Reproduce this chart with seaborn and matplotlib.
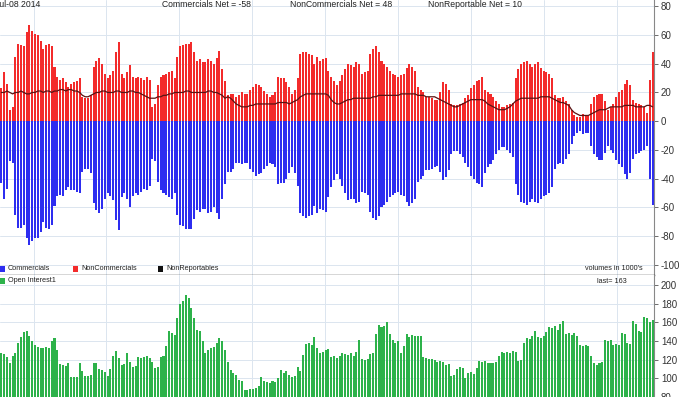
import numpy as np
import pandas as pd
import matplotlib
matplotlib.use("Agg")
import matplotlib.pyplot as plt
from matplotlib.patches import Rectangle
import seaborn as sns

# ---------------- data (weekly, 234 reports, values in 1000's) ----------------
date_label = "Jul-08 2014"
noncommercials = [
    23, 34, 26, 8, 10, 45, 54, 53, 52, 62,
    67, 63, 61, 60, 56, 50, 53, 54, 52, 38,
    31, 29, 30, 27, 24, 26, 27, 28, 30, 17,
    16, 16, 18, 38, 42, 44, 40, 33, 30, 32,
    35, 48, 55, 33, 30, 34, 39, 31, 30, 31,
    30, 29, 31, 29, 10, 12, 25, 31, 32, 33,
    34, 35, 30, 45, 52, 53, 54, 54, 55, 48,
    42, 43, 41, 41, 43, 42, 40, 44, 49, 36,
    28, 18, 19, 19, 17, 18, 20, 19, 19, 22,
    24, 26, 25, 24, 21, 19, 17, 18, 20, 31,
    30, 30, 27, 24, 19, 22, 30, 47, 48, 48,
    47, 46, 40, 45, 42, 43, 44, 35, 31, 28,
    25, 28, 32, 36, 40, 39, 38, 41, 40, 33,
    34, 35, 47, 50, 52, 48, 42, 40, 38, 35,
    33, 32, 31, 32, 33, 37, 40, 38, 35, 24,
    22, 20, 17, 17, 16, 15, 15, 20, 27, 26,
    22, 12, 11, 11, 12, 13, 16, 18, 23, 25,
    28, 29, 31, 22, 20, 19, 17, 14, 12, 10,
    10, 11, 12, 13, 30, 36, 40, 41, 42, 40,
    38, 40, 41, 37, 35, 34, 33, 30, 18, 16,
    16, 17, 14, 12, 8, 4, 3, 3, 5, 4,
    4, 12, 17, 18, 19, 19, 14, 8, 10, 12,
    17, 20, 22, 26, 29, 25, 15, 13, 12, 11,
    10, 6, 29, 48,
]
nonreportables = [
    20, 20, 21, 20, 19, 20, 20, 21, 20, 19,
    19, 20, 20, 21, 21, 20, 21, 21, 20, 21,
    21, 22, 22, 21, 22, 22, 21, 21, 20, 18,
    17, 17, 18, 19, 20, 20, 21, 21, 20, 20,
    20, 21, 21, 20, 20, 20, 21, 21, 20, 20,
    19, 18, 17, 16, 16, 16, 17, 17, 18, 18,
    19, 19, 20, 20, 20, 20, 21, 21, 20, 20,
    20, 20, 20, 20, 21, 21, 20, 20, 19, 18,
    16, 17, 16, 14, 12, 11, 10, 10, 10, 11,
    11, 12, 12, 12, 12, 12, 12, 12, 12, 13,
    13, 13, 13, 12, 13, 14, 15, 17, 18, 19,
    19, 19, 19, 19, 19, 19, 19, 18, 15, 13,
    12, 12, 13, 14, 15, 15, 16, 16, 16, 16,
    16, 16, 16, 17, 17, 18, 18, 18, 18, 18,
    18, 18, 18, 19, 19, 19, 19, 19, 19, 18,
    18, 18, 17, 17, 17, 17, 16, 15, 14, 13,
    12, 11, 10, 10, 11, 12, 13, 14, 15, 15,
    15, 15, 15, 14, 12, 11, 10, 9, 8, 8,
    8, 9, 10, 12, 14, 15, 16, 16, 16, 16,
    16, 16, 16, 17, 17, 17, 17, 16, 15, 14,
    13, 13, 12, 11, 8, 6, 5, 4, 4, 4,
    4, 5, 6, 7, 8, 8, 8, 9, 10, 10,
    10, 10, 10, 11, 11, 11, 11, 10, 10, 10,
    10, 11, 11, 10,
]
commercials = [
    -43, -54, -47, -28, -29, -65, -74, -74, -72, -81,
    -86, -83, -81, -81, -77, -70, -74, -75, -72, -59,
    -52, -51, -52, -48, -46, -48, -48, -49, -50, -35,
    -33, -33, -36, -57, -62, -64, -61, -54, -50, -52,
    -55, -69, -76, -53, -50, -54, -60, -52, -50, -51,
    -49, -47, -48, -45, -26, -28, -42, -48, -50, -51,
    -53, -54, -50, -65, -72, -73, -75, -75, -75, -68,
    -62, -63, -61, -61, -64, -63, -60, -64, -68, -54,
    -44, -35, -35, -33, -29, -29, -30, -29, -29, -33,
    -35, -38, -37, -36, -33, -31, -29, -30, -32, -44,
    -43, -43, -40, -36, -32, -36, -45, -64, -66, -67,
    -66, -65, -59, -64, -61, -62, -63, -53, -46, -41,
    -37, -40, -45, -50, -55, -54, -54, -57, -56, -49,
    -50, -51, -63, -67, -69, -66, -60, -58, -56, -53,
    -51, -50, -49, -51, -52, -56, -59, -57, -54, -42,
    -40, -38, -34, -34, -33, -32, -31, -35, -41, -39,
    -34, -23, -21, -21, -23, -25, -29, -32, -38, -40,
    -43, -44, -46, -36, -32, -30, -27, -23, -20, -18,
    -18, -20, -22, -25, -44, -51, -56, -57, -58, -56,
    -54, -56, -57, -54, -52, -51, -50, -46, -33, -30,
    -29, -30, -26, -23, -16, -10, -8, -7, -9, -8,
    -8, -17, -23, -25, -27, -27, -22, -17, -20, -22,
    -27, -30, -32, -37, -40, -36, -26, -23, -22, -21,
    -20, -17, -40, -58,
]
open_interest = [
    127, 126, 123, 116, 124, 127, 138, 144, 150, 151,
    146, 140, 136, 134, 133, 133, 134, 133, 140, 143,
    130, 115, 114, 113, 116, 102, 101, 101, 116, 108,
    103, 103, 104, 117, 116, 110, 109, 107, 103, 110,
    124, 129, 122, 114, 115, 127, 118, 112, 113, 123,
    122, 123, 124, 122, 118, 111, 112, 123, 124, 135,
    151, 149, 147, 165, 180, 183, 189, 186, 176, 165,
    152, 151, 140, 127, 130, 133, 134, 138, 143, 140,
    130, 118, 109, 106, 104, 98, 97, 88, 87, 89,
    89, 90, 92, 101, 97, 96, 95, 97, 96, 100,
    109, 106, 108, 104, 101, 103, 112, 108, 125, 137,
    138, 136, 144, 133, 127, 128, 130, 132, 123, 124,
    122, 124, 127, 126, 125, 127, 124, 128, 141, 121,
    120, 121, 126, 127, 148, 157, 155, 156, 160, 148,
    141, 138, 140, 127, 135, 148, 144, 147, 146, 145,
    146, 123, 122, 121, 121, 120, 118, 119, 118, 114,
    115, 103, 104, 110, 112, 111, 100, 106, 107, 105,
    111, 119, 118, 119, 116, 117, 116, 118, 124, 128,
    127, 128, 127, 129, 128, 119, 120, 138, 143, 142,
    145, 151, 144, 143, 145, 150, 155, 154, 156, 152,
    158, 162, 148, 149, 147, 149, 146, 136, 135, 136,
    135, 124, 117, 114, 116, 118, 141, 140, 141, 136,
    137, 136, 149, 148, 138, 137, 162, 158, 151, 150,
    166, 165, 160, 163,
]
top_ticks = [-100, -80, -60, -40, -20, 0, 20, 40, 60, 80]
bottom_ticks = [80, 100, 120, 140, 160, 180, 200]

week = list(range(len(open_interest)))
df = pd.DataFrame({"week": week, "comm": commercials, "noncomm": noncommercials,
                   "nonrep": nonreportables, "oi": open_interest})

RED, BLUE, GREEN, DARK = "#f32b2b", "#2d2df0", "#2db24a", "#5a1414"
GRID = "#dbe5ef"

sns.set_style("white")
plt.rcParams["font.family"] = ["Liberation Sans", "DejaVu Sans"]

fig = plt.figure(figsize=(6.85, 3.97), dpi=100)
W = 654 / 685
split = 1 - 274.5 / 397
ax1 = fig.add_axes([0, split, W, 1 - split])
ax2 = fig.add_axes([0, 0, W, split])

n = len(week)
grid_x = np.arange(11.5, n, 26.1)

# top panel
sns.barplot(data=df, x="week", y="noncomm", native_scale=True, color=RED,
            saturation=1, width=0.72, errorbar=None, linewidth=0, ax=ax1)
sns.barplot(data=df, x="week", y="comm", native_scale=True, color=BLUE,
            saturation=1, width=0.72, errorbar=None, linewidth=0, ax=ax1)
sns.lineplot(data=df, x="week", y="nonrep", color=DARK, linewidth=0.9, ax=ax1)
ax1.set_ylim(-106.6, 84.3)

# bottom panel
sns.barplot(data=df, x="week", y="oi", native_scale=True, color=GREEN,
            saturation=1, width=0.72, errorbar=None, linewidth=0, ax=ax2)
ax2.set_ylim(80, 211.5)

for ax, ticks in ((ax1, top_ticks), (ax2, bottom_ticks)):
    ax.set_xlim(-0.5, n - 0.5)
    ax.set_yticks(ticks)
    ax.set_yticklabels([str(t) for t in ticks])
    ax.yaxis.tick_right()
    ax.set_xticks(grid_x)
    ax.set_xticklabels([])
    ax.set_xlabel("")
    ax.set_ylabel("")
    ax.grid(True, color=GRID, linewidth=0.7)
    ax.set_axisbelow(True)
    ax.tick_params(axis="y", direction="out", length=3, width=0.6, pad=2,
                   labelsize=7, colors="#555555", labelcolor="#333333")
    for s in ("left", "top"):
        ax.spines[s].set_visible(False)
    ax.spines["right"].set_color("#888888")
    ax.spines["right"].set_linewidth(0.8)

ax1.tick_params(axis="x", length=0)
ax1.spines["bottom"].set_color("#333333")
ax1.spines["bottom"].set_linewidth(1.0)
ax2.spines["bottom"].set_visible(False)
ax2.tick_params(axis="x", direction="in", length=3, width=0.8, colors="#333333")

# header
fs = 6.2
fig.text(-5 / 685, 1 - 4.5 / 397, date_label, fontsize=fs, va="center", ha="left", color="#222222")
fig.text(162 / 685, 1 - 4.5 / 397, "Commercials Net = -58", fontsize=fs, va="center", color="#222222")
fig.text(290 / 685, 1 - 4.5 / 397, "NonCommercials Net = 48", fontsize=fs, va="center", color="#222222")
fig.text(428 / 685, 1 - 4.5 / 397, "NonReportable Net = 10", fontsize=fs, va="center", color="#222222")

# legends
lfs = 5.2
def key(x, y, color, label):
    fig.add_artist(Rectangle((x / 685, 1 - (y + 3) / 397), 5 / 685, 6 / 397,
                             transform=fig.transFigure, facecolor=color, edgecolor="none"))
    fig.text((x + 8) / 685, 1 - y / 397, label, fontsize=lfs, va="center", color="#222222")

key(0, 268.5, BLUE, "Commercials")
key(73, 268.5, RED, "NonCommercials")
key(158, 268.5, "#111111", "NonReportables")
key(0, 281, GREEN, "Open Interest1")
fig.text(643 / 685, 1 - 269 / 397, "volumes in 1000's", fontsize=lfs, va="center", ha="right", color="#222222")
fig.text(627 / 685, 1 - 281.5 / 397, "last= 163", fontsize=lfs, va="center", ha="right", color="#222222")

fig.savefig("out.png", dpi=100)
